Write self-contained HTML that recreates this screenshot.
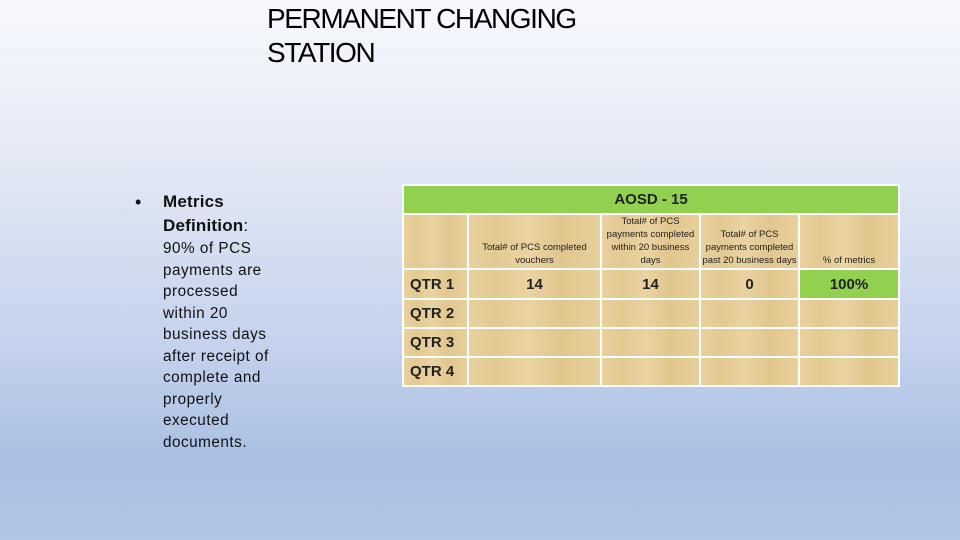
<!DOCTYPE html>
<html><head><meta charset="utf-8"><style>
html,body{margin:0;padding:0}
body{width:960px;height:540px;overflow:hidden;position:relative;
background:linear-gradient(180deg,#f7f9fd 0%,#e3e9f5 30%,#c3d1ec 65%,#aabfe3 85%,#b2c5e6 100%);
font-family:"Liberation Sans",sans-serif}
.title{position:absolute;left:267px;top:2px;font-size:28px;line-height:34px;color:#000;letter-spacing:-1.4px}
.bl{position:absolute;left:135px;top:190px;font-size:18px;line-height:24px;color:#111}
.mh{position:absolute;left:163px;top:190px;font-size:17px;line-height:24px;color:#111;font-weight:bold;letter-spacing:0.2px}
.body{position:absolute;left:163px;top:238px;font-size:15.3px;line-height:21.5px;color:#111;letter-spacing:0.5px}
table{position:absolute;left:402px;top:184px;border-collapse:collapse;}
td{border:2px solid #fff;padding:0;text-align:center;
background:linear-gradient(90deg,#e9d19f,#e3c991 20%,#ead3a2 45%,#e1c68e 70%,#e8cf9b);color:#222}
.hd{background:#92d050;font-weight:bold;font-size:15px;height:27px}
.sm{font-size:9.5px;line-height:13px;vertical-align:bottom;padding-bottom:1px}
.q{font-weight:bold;font-size:15px;text-align:left;padding-left:6px}
.v{font-weight:bold;font-size:15px}
.g{background:#92d050}
</style></head><body>
<div class="title">PERMANENT CHANGING<br>STATION</div>
<div class="bl">•</div>
<div class="mh">Metrics<br>Definition<span style="font-weight:normal">:</span></div>
<div class="body">90% of PCS<br>payments are<br>processed<br>within 20<br>business days<br>after receipt of<br>complete and<br>properly<br>executed<br>documents.</div>
<table>
<colgroup><col style="width:65px"><col style="width:133px"><col style="width:99px"><col style="width:99px"><col style="width:100px"></colgroup>
<tr><td colspan="5" class="hd">AOSD - 15</td></tr>
<tr style="height:54px"><td></td>
<td class="sm">Total# of PCS completed<br>vouchers</td>
<td class="sm">Total# of PCS<br>payments completed<br>within 20 business<br>days</td>
<td class="sm">Total# of PCS<br>payments completed<br>past 20 business days</td>
<td class="sm">% of metrics</td></tr>
<tr style="height:30px"><td class="q">QTR 1</td><td class="v">14</td><td class="v">14</td><td class="v">0</td><td class="v g">100%</td></tr>
<tr style="height:29px"><td class="q">QTR 2</td><td></td><td></td><td></td><td></td></tr>
<tr style="height:29px"><td class="q">QTR 3</td><td></td><td></td><td></td><td></td></tr>
<tr style="height:29px"><td class="q">QTR 4</td><td></td><td></td><td></td><td></td></tr>
</table>
</body></html>
